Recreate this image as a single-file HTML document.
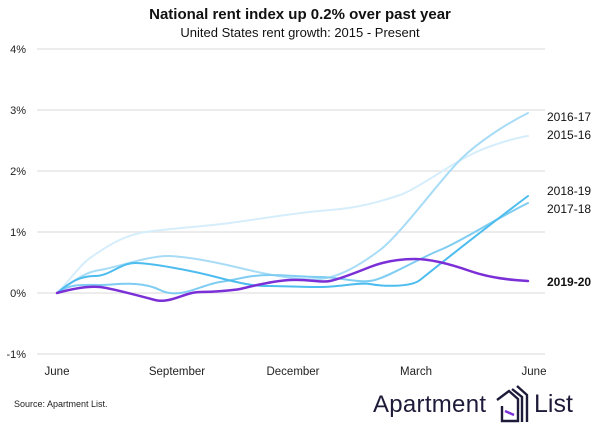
<!DOCTYPE html><html><head><style>body{margin:0;background:#fff;width:600px;height:430px;overflow:hidden;font-family:"Liberation Sans",sans-serif}</style></head><body>
<svg width="600" height="430" xmlns="http://www.w3.org/2000/svg" font-family="Liberation Sans, sans-serif">
<text x="300" y="19" text-anchor="middle" font-size="15" font-weight="bold" fill="#111">National rent index up 0.2% over past year</text>
<text x="300" y="37" text-anchor="middle" font-size="13" fill="#111">United States rent growth: 2015 - Present</text>
<g stroke="#e6e6e6" stroke-width="1.5">
<line x1="37" x2="545" y1="49" y2="49"/><line x1="37" x2="545" y1="110" y2="110"/><line x1="37" x2="545" y1="171" y2="171"/><line x1="37" x2="545" y1="232" y2="232"/><line x1="37" x2="545" y1="293" y2="293"/><line x1="37" x2="545" y1="354" y2="354"/></g>
<g font-size="11" fill="#222" text-anchor="end">
<text x="26" y="53">4%</text><text x="26" y="114">3%</text><text x="26" y="175">2%</text><text x="26" y="236">1%</text><text x="26" y="297">0%</text><text x="26" y="358">-1%</text></g>
<g font-size="11.5" fill="#222" text-anchor="middle">
<text x="57" y="375">June</text><text x="177" y="375">September</text><text x="293" y="375">December</text><text x="416" y="375">March</text><text x="534" y="375">June</text></g>
<g fill="none" stroke-linecap="round" stroke-linejoin="round">
<path d="M57,293 C70,280 80,265 90,258 S120,237 140,233 S200,227 230,223 S300,212 330,210 S385,200 400,195 S450,165 470,155 S515,138 528,136" stroke="#d6eefb" stroke-width="2"/>
<path d="M57,293 C75,280 85,272 100,270 S150,255 170,256 S215,262 240,268 S300,281 320,279 S360,265 380,250 S440,180 460,160 S510,122 528,113" stroke="#a8dcf6" stroke-width="2"/>
<path d="M57,293 C70,283 85,285 100,285 S140,280 160,290 S200,285 220,282 S250,275 270,275 S300,277 320,277 S360,284 375,280 S420,258 440,250 S490,222 528,203" stroke="#7fcdf2" stroke-width="2"/>
<path d="M57,293 C70,282 80,276 95,276 S120,263 135,263 S190,270 220,278 S260,286 270,286 S300,287 320,287 S360,282 370,284 S410,288 420,280 S480,232 528,196" stroke="#4dbcee" stroke-width="2"/>
<path d="M57,293 C75,288 90,286 100,287 S140,296 155,300 S185,292 200,292 S235,290 240,289 S270,281 290,280 S320,283 330,281 S355,273 370,267 S400,259 415,259 S450,264 470,271 S510,280 528,281" stroke="#7b2fd6" stroke-width="2.5"/>
</g>
<g font-size="12" fill="#111">
<text x="547" y="121">2016-17</text><text x="547" y="139">2015-16</text><text x="547" y="195">2018-19</text><text x="547" y="213">2017-18</text><text x="547" y="286" font-weight="bold">2019-20</text></g>
<text x="14" y="407" font-size="9" fill="#222">Source: Apartment List.</text>
<text x="373" y="412" font-size="24" fill="#1e1b3a" textLength="113">Apartment</text>
<g fill="none" stroke-width="2.4"><path d="M497,400 L509,391 L518,399 L518,421 L502,421 L502,406" stroke="#1e1b3a"/><path d="M505,411 L514,415" stroke="#7b2fd6"/><path d="M512,389 L522,397 L522,422" stroke="#1e1b3a"/><path d="M517,386 L527,395 L527,422" stroke="#1e1b3a"/></g>
<text x="534" y="412" font-size="25" fill="#1e1b3a">List</text>
</svg></body></html>
